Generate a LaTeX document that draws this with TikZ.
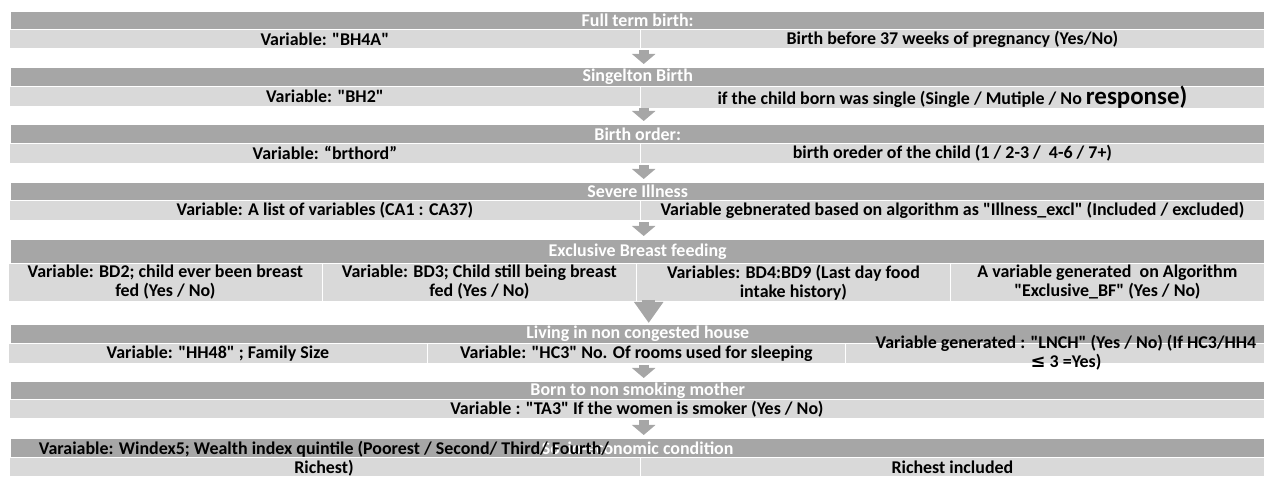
\documentclass[tikz,border=0pt]{standalone}
\usepackage{fontspec}
\setmainfont{Carlito}[Ligatures=TeXOff]
\newfontfamily\symfont{DejaVu Sans}
\usetikzlibrary{arrows.meta}
\definecolor{hdgray}{HTML}{A6A6A6}
\definecolor{cellgray}{HTML}{D9D9D9}

\begin{document}
\begin{tikzpicture}[x=1bp, y=-1bp,
  headbar/.style={anchor=north west, fill=hdgray, text=white, inner sep=0, minimum width=1253bp, font=\fontsize{18}{19}\selectfont\bfseries },
  cellbar/.style={anchor=north west, fill=cellgray, draw=white, line width=0.8bp, inner sep=0, align=center, font=\fontsize{18}{19}\selectfont\bfseries },
  celltext/.style={inner sep=0, align=center, font=\fontsize{18}{19}\selectfont\bfseries },
  flowarrow/.style={draw=hdgray, line width=10bp, -{Triangle[width=23bp,length=10bp]}, shorten <=1bp, shorten >=4bp },
  bigarrow/.style={draw=hdgray, line width=13bp, -{Triangle[width=28bp,length=21bp]}, shorten <=-2bp, shorten >=2bp },
]
\useasboundingbox (0,0) rectangle (1264,481);

%FULL TERM BIRTH
\node[headbar, minimum height=17bp] (fullterm) at (11,12) {Full term birth:};
\node[cellbar, minimum width=631bp, minimum height=19bp] (bh4a) at (9,29) {Variable: "BH4A"};
\node[cellbar, minimum width=624bp, minimum height=19bp] (preterm) at (640,29) {Birth before 37 weeks of pregnancy (Yes/No)};

%SINGLETON
\node[headbar, minimum height=18bp] (singleton) at (11,68) {Singelton Birth};
\node[cellbar, minimum width=631bp, minimum height=20bp] (bh2) at (9,86) {Variable: "BH2"};
\node[cellbar, minimum width=624bp, minimum height=20bp] (single) at (640,86) {if the child born was single (Single / Mutiple / No {\fontsize{25}{25}\selectfont response)}};

%BIRTH ORDER
\node[headbar, minimum height=18bp] (birthorder) at (11,125) {Birth order:};
\node[cellbar, minimum width=631bp, minimum height=20bp] (brthord) at (9,143) {Variable: “brthord”};
\node[cellbar, minimum width=624bp, minimum height=20bp] (oreder) at (640,143) {birth oreder of the child (1 / 2-3 /\ \ 4-6 / 7+)};

%SEVERE ILLNESS
\node[headbar, minimum height=17bp] (illness) at (11,183) {Severe Illness};
\node[cellbar, minimum width=631bp, minimum height=20bp] (calist) at (9,200) {Variable: A list of variables (CA1 : CA37)};
\node[cellbar, minimum width=624bp, minimum height=20bp] (illexcl) at (640,200) {Variable gebnerated based on algorithm as "Illness\_excl" (Included / excluded)};

%EXCLUSIVE BREAST FEEDING
\node[headbar, minimum height=23bp] (breastfeed) at (11,240) {Exclusive Breast feeding};
\node[cellbar, minimum width=314bp, minimum height=38bp] (bdtwo) at (8,263) {Variable: BD2; child ever been breast\\fed (Yes / No)};
\node[cellbar, minimum width=314bp, minimum height=38bp] (bdthree) at (322,263) {Variable: BD3; Child still being breast\\fed (Yes / No)};
\node[cellbar, minimum width=314bp, minimum height=38bp] (bdfood) at (636,263) {Variables: BD4:BD9 (Last day food\\intake history)};
\node[cellbar, minimum width=314bp, minimum height=38bp] (exclbf) at (950,263) {A variable generated\ \ on Algorithm\\"Exclusive\_BF" (Yes / No)};

%NON CONGESTED HOUSE
\node[headbar, minimum height=18bp] (housing) at (11,325) {Living in non congested house};
\node[cellbar, minimum width=419bp, minimum height=20bp] (hhsize) at (8,343) {Variable: "HH48" ; Family Size};
\node[cellbar, minimum width=418bp, minimum height=20bp] (rooms) at (427,343) {Variable: "HC3" No. Of rooms used for sleeping};
\node[cellbar, minimum width=419bp, minimum height=20bp] (lnch) at (845,343) {};
\node[celltext] (lnchtext) at (1066,353) {Variable generated : "LNCH" (Yes / No) (If HC3/HH4\\{\symfont ≤} 3 =Yes)};

%NON SMOKING MOTHER
\node[headbar, minimum height=17bp] (smoking) at (11,382) {Born to non smoking mother};
\node[cellbar, minimum width=1255bp, minimum height=19bp] (ta3) at (9,399) {Variable : "TA3" If the women is smoker (Yes / No)};

%SOCIO ECONOMIC
\node[headbar, minimum height=18bp] (socioecon) at (11,439) {Socio-economic condition};
\node[cellbar, minimum width=631bp, minimum height=19bp] (windex) at (9,457) {};
\node[cellbar, minimum width=624bp, minimum height=19bp] (richest) at (640,457) {Richest included};
\node[celltext] (windextext) at (324,459) {Varaiable: Windex5; Wealth index quintile (Poorest / Second/ Third/ Fourth/\\Richest)};

%%ARROWS
\draw[flowarrow] ([xshift=6bp]fullterm.south |- bh4a.south) -- ([xshift=6bp]singleton.north);
\draw[flowarrow] ([xshift=6bp]singleton.south |- bh2.south) -- ([xshift=6bp]birthorder.north);
\draw[flowarrow] ([xshift=6bp]birthorder.south |- brthord.south) -- ([xshift=6bp]illness.north);
\draw[flowarrow] ([xshift=6bp]illness.south |- calist.south) -- ([xshift=6bp]breastfeed.north);
\draw[bigarrow] ([xshift=11bp]breastfeed.south |- bdthree.south) -- ([xshift=11bp]housing.north);
\draw[flowarrow] ([xshift=6bp]housing.south |- rooms.south) -- ([xshift=6bp]smoking.north);
\draw[flowarrow] ([xshift=6bp]smoking.south |- ta3.south) -- ([xshift=6bp]socioecon.north);

\end{tikzpicture}
\end{document}
